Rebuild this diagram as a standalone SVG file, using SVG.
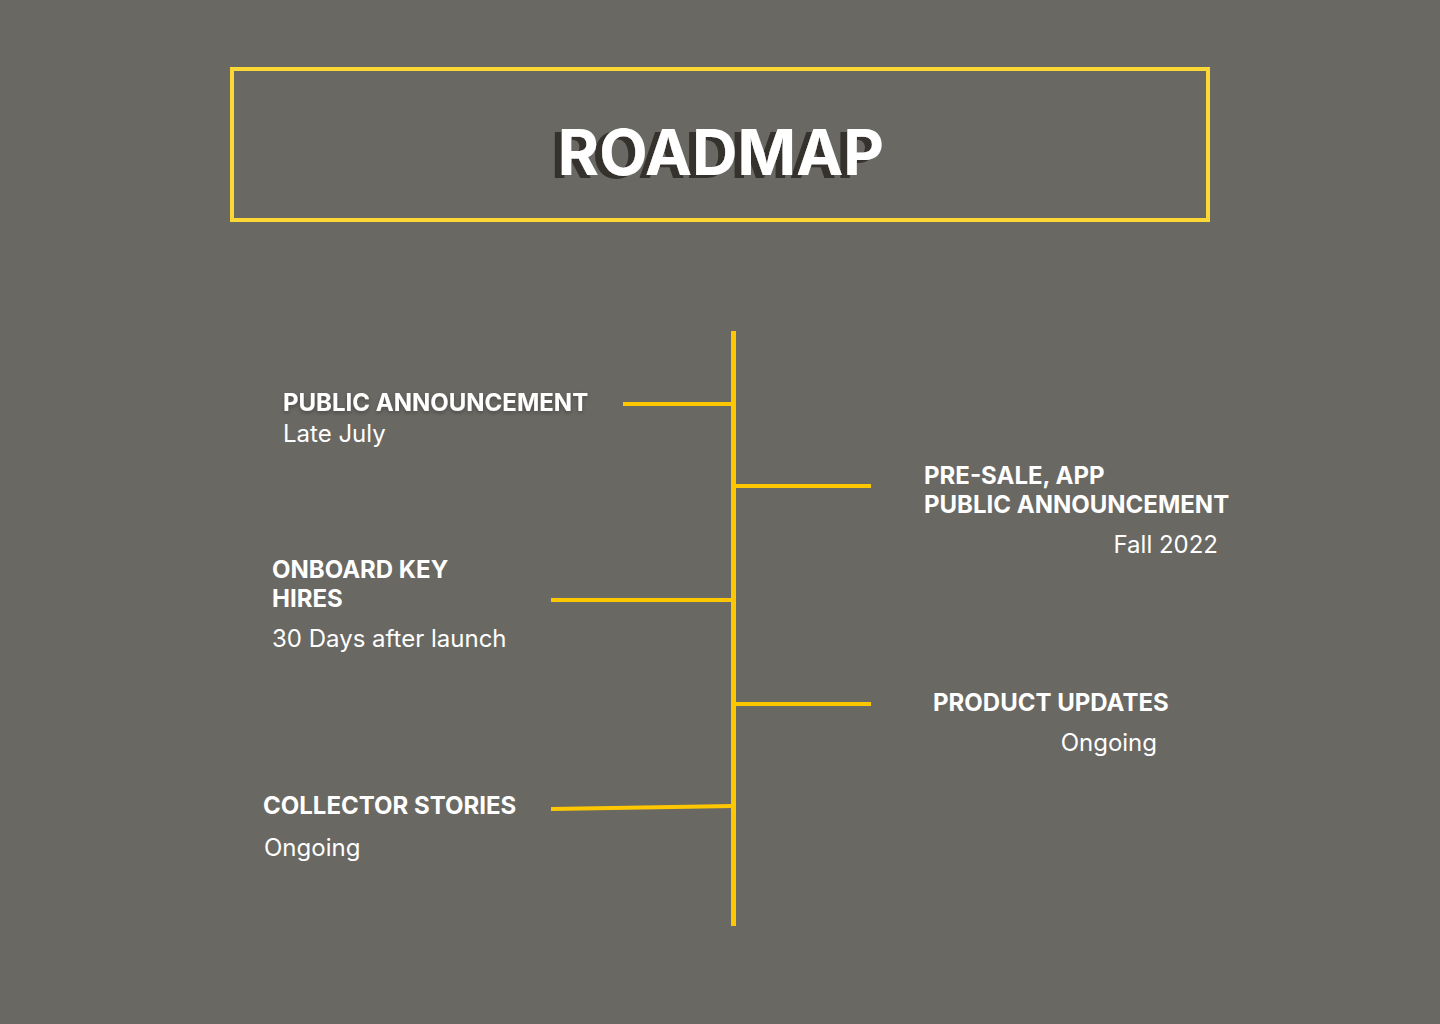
<svg xmlns="http://www.w3.org/2000/svg" width="1440" height="1024" viewBox="0 0 1440 1024">
<defs>
<style>
.bg{fill:#6a6863}
.frame{fill:none;stroke:#fdd835;stroke-width:4}
.ln{stroke:#ffc700;stroke-width:4;fill:none;stroke-linecap:butt}
.h{font-family:Inter,"Noto Sans",sans-serif;font-weight:700;font-size:24px;fill:#ffffff}
.s{font-family:Inter,"Noto Sans",sans-serif;font-weight:400;font-size:24px;fill:#ffffff}
.t{font-family:Inter,"Noto Sans",sans-serif;font-weight:700;font-size:63px;text-anchor:middle;fill:#ffffff}
</style>
<filter id="sh" x="-10%" y="-50%" width="120%" height="200%">
<feDropShadow dx="0" dy="2" stdDeviation="2" flood-color="#000" flood-opacity="0.3"/>
</filter>
<filter id="tsh" x="-10%" y="-30%" width="120%" height="160%">
<feFlood flood-color="#34332e" result="c"/>
<feComposite in="c" in2="SourceAlpha" operator="in" result="a"/>
<feOffset in="a" dx="-7" dy="3" result="o"/>
<feMerge><feMergeNode in="o"/><feMergeNode in="SourceGraphic"/></feMerge>
</filter>
</defs>
<rect class="bg" x="0" y="0" width="1440" height="1024"/>
<g id="title">
<rect class="frame" x="232" y="69" width="976" height="151"/>
<text class="t" x="721" y="175" filter="url(#tsh)">ROADMAP</text>
</g>
<g id="connectors">
<line class="ln" x1="733.5" y1="331" x2="733.5" y2="926" style="stroke-width:5"/>
<line class="ln" x1="623" y1="404" x2="733" y2="404"/>
<line class="ln" x1="733" y1="486" x2="871" y2="486"/>
<line class="ln" x1="551" y1="600" x2="733" y2="600"/>
<line class="ln" x1="733" y1="704" x2="871" y2="704"/>
<line class="ln" x1="551" y1="809" x2="733" y2="806"/>
</g>
<g id="node-public-announcement">
<text class="h" x="283" y="411" filter="url(#sh)">PUBLIC ANNOUNCEMENT</text>
<text class="s" x="283" y="442">Late July</text>
</g>
<g id="node-presale">
<text class="h" x="924" y="484">PRE-SALE, APP</text>
<text class="h" x="924" y="513">PUBLIC ANNOUNCEMENT</text>
<text class="s" x="1218" y="553" text-anchor="end">Fall 2022</text>
</g>
<g id="node-onboard">
<text class="h" x="272" y="578">ONBOARD KEY</text>
<text class="h" x="272" y="607">HIRES</text>
<text class="s" x="272" y="647">30 Days after launch</text>
</g>
<g id="node-product-updates">
<text class="h" x="933" y="711">PRODUCT UPDATES</text>
<text class="s" x="1157" y="751" text-anchor="end">Ongoing</text>
</g>
<g id="node-collector-stories">
<text class="h" x="263" y="814">COLLECTOR STORIES</text>
<text class="s" x="264" y="856">Ongoing</text>
</g>
</svg>
